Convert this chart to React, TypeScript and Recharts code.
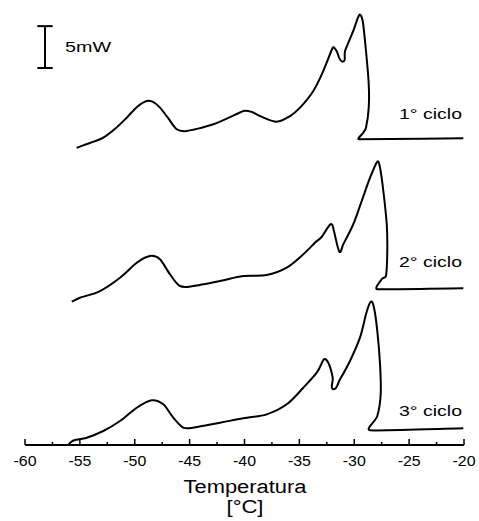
import { LineChart, Line, XAxis, YAxis, ReferenceLine, Customized } from "recharts";

// temperature (°C) and heat flow (mW, stacked offset) for each cycle
const cycle1Temp = [-55.29, -54.08, -52.87, -51.71, -50.73, -49.8, -48.91, -48.34, -47.7, -46.97, -46.18, -45.27, -42.84, -40.11, -39.32, -38.59, -37.07, -35.85, -34.94, -33.73, -32.82, -31.96, -31.6, -31.05, -30.84, -30.09, -29.54, -29.23, -28.93, -28.68, -28.68, -28.93, -29.18, -29.57, -20.06];
const cycle1Flow = [35.49, 36.05, 36.68, 37.84, 39.07, 40.35, 41.06, 40.95, 40.27, 39.04, 37.69, 37.48, 38.28, 39.87, 39.75, 39.27, 38.59, 39.27, 40.27, 42.26, 44.65, 47.43, 47.03, 45.76, 47.03, 49.42, 51.33, 50.61, 47.03, 43.06, 40.27, 37.88, 37.28, 36.49, 36.61];

const cycle2Temp = [-55.74, -54.99, -53.17, -51.34, -49.82, -48.61, -47.7, -46.79, -45.88, -44.67, -42.23, -40.11, -37.98, -36.15, -34.64, -33.58, -32.97, -32.15, -31.85, -31.36, -31.0, -30.09, -29.32, -28.56, -27.9, -27.65, -27.35, -27.04, -26.99, -27.11, -27.5, -27.9, -20.06];
const cycle2Flow = [17.11, 17.58, 18.38, 19.97, 21.76, 22.56, 22.17, 20.38, 18.98, 18.98, 19.58, 20.17, 20.29, 21.17, 22.76, 24.15, 24.83, 26.35, 25.55, 23.08, 23.96, 26.35, 29.13, 31.91, 33.82, 33.1, 30.32, 26.35, 23.16, 20.17, 19.78, 18.59, 18.71];

const cycle3Temp = [-56.04, -55.81, -55.44, -54.38, -52.87, -51.34, -49.82, -48.46, -47.4, -46.49, -45.58, -44.67, -42.23, -40.11, -37.98, -36.15, -34.64, -33.42, -32.76, -32.36, -31.96, -31.91, -31.3, -30.39, -29.48, -28.93, -28.5, -28.2, -27.9, -27.65, -27.59, -27.9, -28.56, -20.06];
const cycle3Flow = [0, 0.36, 0.6, 0.87, 1.67, 2.86, 4.45, 5.34, 4.86, 3.26, 2.07, 2.07, 2.66, 3.19, 3.66, 4.86, 6.84, 8.63, 10.23, 9.82, 8.03, 6.65, 7.84, 10.03, 12.81, 15.6, 17.11, 16.39, 13.61, 9.63, 6.05, 3.46, 1.75, 1.99];

const cycleLabels = ["1° ciclo", "2° ciclo", "3° ciclo"];
const xTicks = [-60, -57.5, -55, -52.5, -50, -47.5, -45, -42.5, -40, -37.5, -35, -32.5, -30, -27.5, -25, -22.5, -20];

const toPoints = (temps: number[], flows: number[]) =>
  temps.map((t, i) => ({ t, mw: flows[i] }));

const series = [
  toPoints(cycle1Temp, cycle1Flow),
  toPoints(cycle2Temp, cycle2Flow),
  toPoints(cycle3Temp, cycle3Flow),
];

const FONT = "'Liberation Sans', Arial, sans-serif";

// 5 mW scale bar, in data units
const barX = -58.18;
const barBottom = 45;
const barTop = 50;
const capHalf = 0.7;

// smooth parametric curve (x is not monotonic at the melting edge),
// control arms limited by the neighbouring segments so nothing overshoots
const smoothCurve = (context: any) => {
  let pts: number[][] = [];
  const dist = (a: number[], b: number[]) => Math.hypot(b[0] - a[0], b[1] - a[1]);
  const unit = (a: number[], b: number[]) => {
    const len = dist(a, b) || 1;
    return [(b[0] - a[0]) / len, (b[1] - a[1]) / len];
  };
  return {
    areaStart() {},
    areaEnd() {},
    lineStart() {
      pts = [];
    },
    point(x: number, y: number) {
      pts.push([+x, +y]);
    },
    lineEnd() {
      if (!pts.length) return;
      context.moveTo(pts[0][0], pts[0][1]);
      for (let i = 0; i < pts.length - 1; i++) {
        const p0 = pts[i - 1] || pts[i];
        const p1 = pts[i];
        const p2 = pts[i + 1];
        const p3 = pts[i + 2] || p2;
        const seg = dist(p1, p2);
        const d1 = Math.min(seg, i > 0 ? dist(p0, p1) : seg) / 3;
        const d2 = Math.min(seg, i + 2 < pts.length ? dist(p2, p3) : seg) / 3;
        const t1 = unit(p0, p2);
        const t2 = unit(p1, p3);
        context.bezierCurveTo(
          p1[0] + t1[0] * d1,
          p1[1] + t1[1] * d1,
          p2[0] - t2[0] * d2,
          p2[1] - t2[1] * d2,
          p2[0],
          p2[1]
        );
      }
    },
  };
};

const AxisTick = ({ x, y, payload }: any) => {
  const major = payload.value % 5 === 0;
  return (
    <g>
      <line x1={x} x2={x} y1={y} y2={y - (major ? 6 : 3)} stroke="#000" strokeWidth={1.5} />
      {major && (
        <text
          x={x}
          y={y + 21}
          textAnchor="middle"
          fontSize={14}
          fontFamily={FONT}
          fill="#000"
          textLength={23}
          lengthAdjust="spacingAndGlyphs"
        >
          {payload.value}
        </text>
      )}
    </g>
  );
};

const labelBaselines = [119, 267, 416];

const Annotations = () => (
  <g fontFamily={FONT} fill="#000">
    <text x={65} y={51.5} fontSize={15} textLength={46} lengthAdjust="spacingAndGlyphs">
      5mW
    </text>
    {cycleLabels.map((label, i) => (
      <text
        key={label}
        x={462}
        y={labelBaselines[i]}
        fontSize={15.5}
        textAnchor="end"
        textLength={63}
        lengthAdjust="spacingAndGlyphs"
      >
        {label}
      </text>
    ))}
    <text x={245} y={493} fontSize={18} textAnchor="middle" textLength={123} lengthAdjust="spacingAndGlyphs">
      Temperatura
    </text>
    <text x={245} y={513} fontSize={18} textAnchor="middle" textLength={37} lengthAdjust="spacingAndGlyphs">
      [°C]
    </text>
  </g>
);

export default function App() {
  return (
    <div style={{ position: "absolute", left: 0, top: 0, background: "#fff" }}>
      <LineChart width={479} height={521} margin={{ top: 1, right: 15, left: 25, bottom: 0 }}>
        <XAxis
          dataKey="t"
          type="number"
          domain={[-60, -20]}
          ticks={xTicks}
          interval={0}
          height={76}
          tickSize={0}
          tickMargin={0}
          tickLine={false}
          axisLine={{ stroke: "#000", strokeWidth: 2 }}
          tick={<AxisTick />}
        />
        <YAxis type="number" domain={[0, 53]} hide />
        {series.map((data, i) => (
          <Line
            key={i}
            data={data}
            dataKey="mw"
            type={smoothCurve as any}
            stroke="#000"
            strokeWidth={2}
            dot={false}
            activeDot={false}
            isAnimationActive={false}
          />
        ))}
        <ReferenceLine
          segment={[{ x: barX, y: barBottom }, { x: barX, y: barTop }]}
          stroke="#000"
          strokeWidth={2}
        />
        <ReferenceLine
          segment={[{ x: barX - capHalf, y: barTop }, { x: barX + capHalf, y: barTop }]}
          stroke="#000"
          strokeWidth={2}
        />
        <ReferenceLine
          segment={[{ x: barX - capHalf, y: barBottom }, { x: barX + capHalf, y: barBottom }]}
          stroke="#000"
          strokeWidth={2}
        />
        <Customized component={Annotations} />
      </LineChart>
    </div>
  );
}
